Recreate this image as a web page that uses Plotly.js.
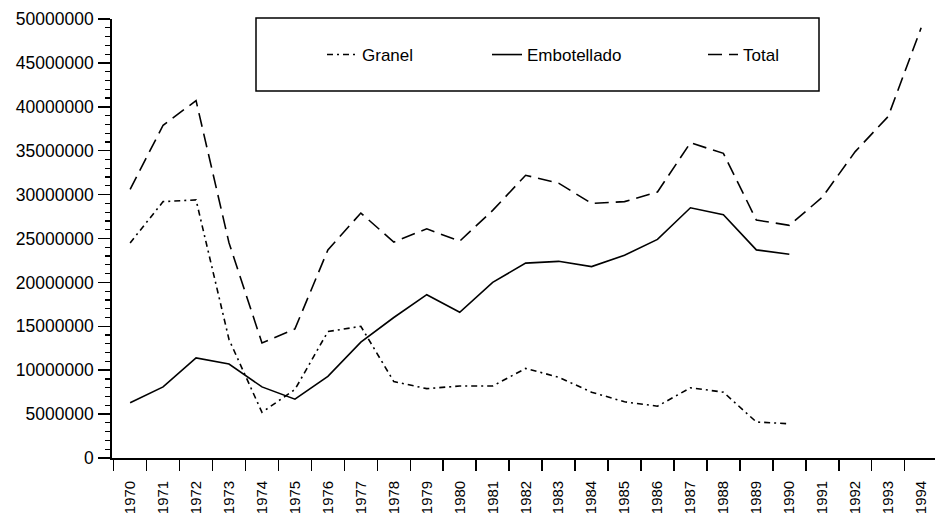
<!DOCTYPE html>
<html>
<head>
<meta charset="utf-8">
<script src="https://cdn.plot.ly/plotly-3.0.1.min.js"></script>
<style>html,body{margin:0;padding:0;background:#fff;}#chart{width:935px;height:514px;}</style>
</head>
<body>
<div id="chart"></div>
<script>
const years = ["1970","1971","1972","1973","1974","1975","1976","1977","1978","1979","1980","1981","1982","1983","1984","1985","1986","1987","1988","1989","1990","1991","1992","1993","1994"];
const granel = [24500000,29200000,29400000,13500000,5200000,7800000,14400000,15000000,8700000,7900000,8200000,8200000,10200000,9200000,7500000,6400000,5900000,8000000,7500000,4100000,3900000];
const embotellado = [6300000,8100000,11400000,10700000,8100000,6700000,9300000,13200000,16000000,18600000,16600000,20000000,22200000,22400000,21800000,23100000,24900000,28500000,27700000,23700000,23200000];
const total = [30600000,37900000,40700000,24500000,13100000,14700000,23700000,27900000,24600000,26100000,24700000,28200000,32200000,31300000,29000000,29200000,30300000,35900000,34700000,27100000,26500000,29700000,34900000,38900000,49000000];
const yTicks = [0,5000000,10000000,15000000,20000000,25000000,30000000,35000000,40000000,45000000,50000000];

const font = {family: '"Liberation Sans", Arial, sans-serif', color: '#000'};
const traces = [
  {x: years.slice(0, granel.length), y: granel, name: 'Granel', mode: 'lines', legend: 'legend',
   line: {color: '#000', width: 1.6, dash: '6px,4px,2px,4px'}},
  {x: years.slice(0, embotellado.length), y: embotellado, name: 'Embotellado', mode: 'lines', legend: 'legend2',
   line: {color: '#000', width: 1.6}},
  {x: years, y: total, name: 'Total', mode: 'lines', legend: 'legend3',
   line: {color: '#000', width: 1.6, dash: '14px,7px'}}
];
const L = 112, R = 935, T = 19, B = 458;
const px = v => (v - L) / (R - L);
const py = v => 1 - (v - T) / (B - T);
const legBase = {orientation: 'h', xanchor: 'left', yanchor: 'middle', y: py(55), bgcolor: 'rgba(0,0,0,0)', borderwidth: 0,
  font: Object.assign({size: 17}, font)};
const layout = {
  width: 935, height: 514,
  margin: {l: L, r: 0, t: T, b: 514 - B, pad: 0},
  paper_bgcolor: '#fff', plot_bgcolor: '#fff',
  font: font,
  showlegend: true,
  legend: Object.assign({}, legBase, {x: px(322)}),
  legend2: Object.assign({}, legBase, {x: px(487)}),
  legend3: Object.assign({}, legBase, {x: px(703)}),
  xaxis: {type: 'category', categoryorder: 'array', categoryarray: years, range: [-0.55, 24.42],
    tickson: 'boundaries', ticks: 'outside', ticklen: 11, tickwidth: 1.5, tickcolor: '#000',
    showline: true, linecolor: '#000', linewidth: 1.8, showgrid: false, zeroline: false,
    ticklabelstandoff: 15,
    tickangle: -90, tickfont: Object.assign({size: 15}, font), automargin: false},
  yaxis: {range: [0, 50000000], tickvals: yTicks, ticktext: yTicks.map(String),
    ticks: 'outside', ticklen: 12, tickwidth: 1.5, tickcolor: '#000',
    minor: {dtick: 1000000, ticks: 'outside', ticklen: 5, tickwidth: 1.2, tickcolor: '#000', showgrid: false},
    showline: true, linecolor: '#000', linewidth: 1.8, showgrid: false, zeroline: false,
    ticklabelstandoff: 1,
    tickfont: Object.assign({size: 17.5}, font), automargin: false},
  shapes: [
    {type: 'rect', xref: 'paper', yref: 'paper', x0: px(256), x1: px(819), y0: py(91), y1: py(18),
     line: {color: '#000', width: 1.5}, fillcolor: 'rgba(0,0,0,0)'}
  ]
};
Plotly.newPlot('chart', traces, layout, {staticPlot: true, displayModeBar: false});
</script>
</body>
</html>
